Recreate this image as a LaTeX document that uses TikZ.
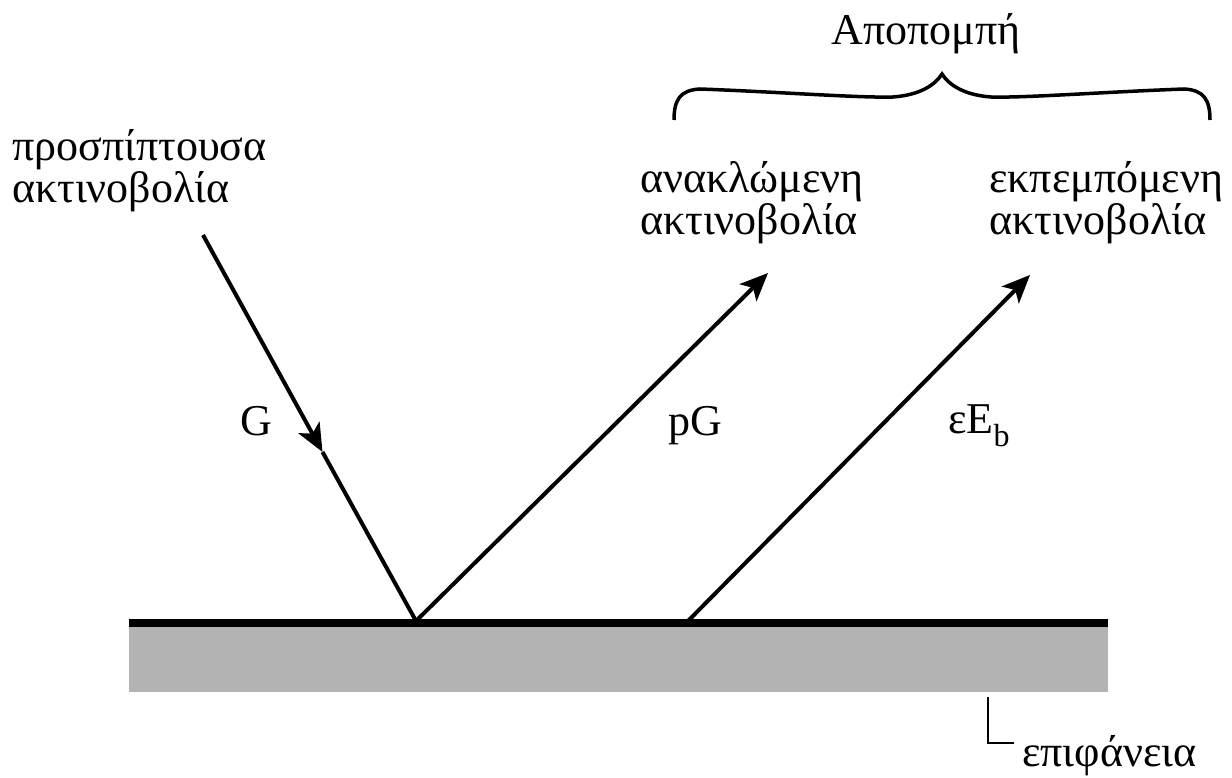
\documentclass[tikz,border=0pt]{standalone}
\usepackage{fontspec}
\setmainfont{Liberation Serif}
\usetikzlibrary{arrows.meta}
\tikzset{
  lbl/.style={inner sep=0pt, font=\fontsize{44}{42}\selectfont, align=left},
  ray/.style={line width=4pt},
  rayarrow/.style={line width=4pt, -{Stealth[length=28pt,width=24pt,inset=7pt]}},
}
\begin{document}
\begin{tikzpicture}[x=1pt,y=-1pt]
\useasboundingbox (0,0) rectangle (1232,778);
% surface
\fill[fill={rgb,255:red,179;green,179;blue,179}] (129,627) rectangle (1108,692);
\fill[black] (129,619) rectangle (1108,627);
% points
\coordinate (inS) at (203,235);
\coordinate (inM) at (322.5,452);
\coordinate (hitA) at (416,621);
\coordinate (hitB) at (688,621);
\coordinate (refT) at (768,273);
\coordinate (emT) at (1030,275);
% rays
\draw[rayarrow] (inS) -- (inM);
\draw[ray] (inM) -- (hitA);
\draw[rayarrow] (hitA) -- (refT);
\draw[rayarrow] (hitB) -- (emT);
% labels (base anchor = last line's baseline)
\node[lbl, anchor=base west] (inc) at (12,203) {προσπίπτουσα\\ακτινοβολία};
\node[lbl, anchor=base west] (refl) at (640,235) {ανακλώμενη\\ακτινοβολία};
\node[lbl, anchor=base west] (emis) at (989,235) {εκπεμπόμενη\\ακτινοβολία};
\node[lbl, anchor=base] (apo) at (926,45) {Αποπομπή};
\node[lbl, anchor=base] (gl) at (256,435) {G};
\node[lbl, anchor=base] (pgl) at (695,435) {pG};
\node[lbl, anchor=base west] (ebl) at (948,433) {εE\raisebox{-13pt}{\fontsize{32}{32}\selectfont b}};
\node[lbl, anchor=base west] (surf) at (1022,766) {επιφάνεια};
% brace
\draw[line width=3.5pt]
  (674,120) .. controls (674,100) and (680,90) .. (700,89)
  .. controls (780,92) and (860,98) .. (893,97)
  .. controls (920,95) and (935,85) .. (942,74)
  .. controls (949,85) and (964,95) .. (991,97)
  .. controls (1024,98) and (1104,92) .. (1184,89)
  .. controls (1204,90) and (1210,100) .. (1210,120);
% leader
\draw[line width=1.2pt] (988,697) |- (1014,743);
\end{tikzpicture}
\end{document}
